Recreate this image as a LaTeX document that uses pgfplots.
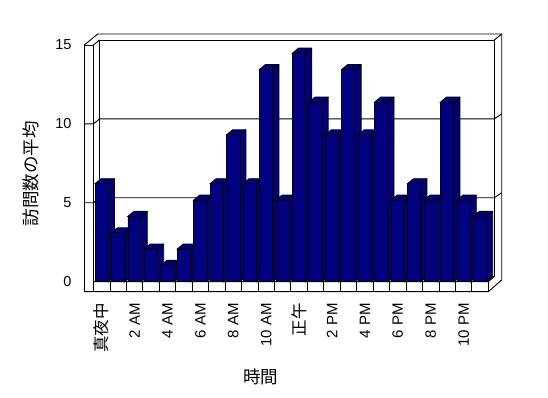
\documentclass[border=0pt]{standalone}
\usepackage{fontspec}
\setmainfont{Liberation Sans}
\newfontfamily\cjk{Noto Sans CJK JP}
\usepackage{pgfplots}
\pgfplotsset{compat=1.18}
\usepackage{pgfplotstable}
\definecolor{barblue}{RGB}{0,0,128}

\pgfplotstableread{
x v
0 6.21
1 3.10
2 4.14
3 2.07
4 1.03
5 2.07
6 5.17
7 6.21
8 9.31
9 6.21
10 13.45
11 5.17
12 14.48
13 11.38
14 9.31
15 13.45
16 9.31
17 11.38
18 5.17
19 6.21
20 5.17
21 11.38
22 5.17
23 4.14
}\visits

% 3D bar: side + top faces, then front face; origin = top centre of front face
\pgfdeclareplotmark{bar3d}{%
  \pgfmathsetmacro\barH{\myv*15.78}%
  \pgfmathsetmacro\barHb{5-\barH}%
  \filldraw[fill=barblue,draw=black,line width=0.9pt,line join=miter]
    (-6.65pt,0pt) -- (-0.65pt,5pt) -- (12.65pt,5pt) -- (12.65pt,\barHb pt)
    -- (6.65pt,-\barH pt) -- (6.65pt,0pt) -- cycle;
  \draw[black,line width=0.9pt] (6.65pt,0pt) -- (12.65pt,5pt);
  \filldraw[fill=barblue,draw=black,line width=0.9pt]
    (-6.65pt,0pt) rectangle (6.65pt,-\barH pt);
}

\begin{document}
\begin{tikzpicture}
\useasboundingbox (0,0) rectangle (548pt,398pt);
% frame (image pixel coordinates, y downwards)
\begin{scope}[x=1pt,y=-1pt,shift={(0pt,398pt)},line width=0.9pt,black]
  \draw (99.5,276.7) -- (99.5,40) -- (494.3,40) -- (494.3,276.7);
  \draw (84.3,45) -- (97.7,34) -- (501.7,34) -- (501.7,280);
  \draw (93.5,45) -- (99.5,40);
  \draw (494.3,40) -- (501.7,34);
  \draw (84.3,291.7) -- (84.3,45) -- (93.5,45) -- (93.5,291.7);
  \draw (84.3,291.7) -- (488.3,291.7) -- (501.7,280);
  \draw (93.5,281.7) -- (488.3,281.7) -- (494.3,276.7);
  \draw (99.5,276.7) -- (494.3,276.7);
  \foreach \k in {1,...,24} {
    \draw ({93.5+16.45*\k},281.7) -- ({93.5+16.45*\k},291.7);
  }
  \foreach \v in {5,10} {
    \pgfmathsetmacro\yf{281.7-15.78*\v}
    \draw (84.3,\yf) -- (93.5,\yf) -- (99.5,\yf-5) -- (494.3,\yf-5) -- (501.7,\yf-10);
  }
  \node[rotate=90,font=\cjk\fontsize{17.5}{17.5}\selectfont] at (30.5,174) {訪問数の平均};
  \node[font=\cjk\fontsize{17.5}{17.5}\selectfont] at (260.5,376.7) {時間};
\end{scope}

\begin{axis}[
  at={(93.5pt,116.3pt)}, anchor=south west,
  x=16.45pt, y=15.78pt,
  xmin=-0.5, xmax=23.5, ymin=0, ymax=15,
  axis line style={draw=none},
  major tick length=0pt,
  clip=false, clip marker paths=true,
  ytick={0,5,10,15},
  xtick={0,2,...,22},
  xticklabels={{\cjk\fontsize{16.5}{16.5}\selectfont 真夜中},2 AM,4 AM,6 AM,8 AM,10 AM,{\cjk\fontsize{16.5}{16.5}\selectfont 正午},2 PM,4 PM,6 PM,8 PM,10 PM},
  xticklabel style={rotate=90, anchor=east, inner sep=0pt, font=\fontsize{15}{15}\selectfont},
  xticklabel shift=21.3pt,
  yticklabel style={anchor=east, inner sep=0pt, font=\fontsize{14.5}{14.5}\selectfont},
  yticklabel shift=21.8pt,
  /pgf/number format/assume math mode=true,
]
\addplot[ybar, bar width=13.3pt, bar shift=0pt, fill=barblue, draw=black, line width=0.9pt]
  table[x=x,y=v]{\visits};
\addplot[only marks, mark=bar3d, visualization depends on={\thisrow{v}\as\myv}]
  table[x=x,y=v]{\visits};
\end{axis}
\end{tikzpicture}
\end{document}
